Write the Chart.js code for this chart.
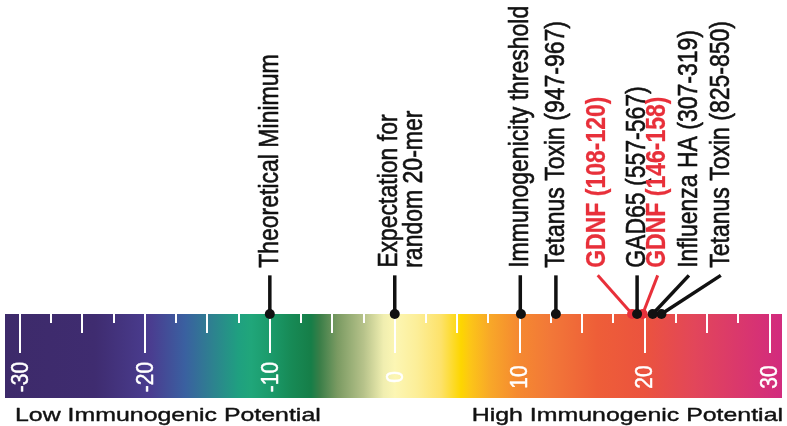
<!DOCTYPE html>
<html>
<head>
<meta charset="utf-8">
<script src="https://cdn.jsdelivr.net/npm/chart.js@4.4.1/dist/chart.umd.min.js"></script>
<style>
  html, body { margin: 0; padding: 0; background: #ffffff; }
  #wrap { width: 787px; height: 426px; position: relative; }
</style>
</head>
<body>
<div id="wrap"><canvas id="c"></canvas></div>
<script>
// ---- data ----
const axisMin = -31.2;
const axisMax = 31.0;
const tickValues = [-30, -20, -10, 0, 10, 20, 30];
const tickLabels = ['-30', '-20', '-10', '0', '10', '20', '30'];
const minorStep = 2.5;

const markerLabels = [
  ['Theoretical Minimum'],
  ['Expectation for', 'random 20-mer'],
  ['Immunogenicity threshold'],
  ['Tetanus Toxin (947-967)'],
  ['GDNF (108-120)'],
  ['GAD65 (557-567)'],
  ['GDNF (146-158)'],
  ['Influenza HA (307-319)'],
  ['Tetanus Toxin (825-850)']
];
const markerScores   = [-10, 0, 10.1, 12.9, 19.0, 19.4, 19.85, 20.65, 21.35];
const labelPositions = [-10, 0, 10.05, 12.9, 16.25, 19.4, 21.05, 23.55, 26.1];
const highlighted    = [false, false, false, false, true, false, true, false, false];

const gradientValues = [-31.2, -24, -19.5, -16.8, -14.7, -12.5, -11.5, -9.9, -8.3, -6.7, -6.0, -4.6, -2.5, -0.9, 0, 1.8, 3.7, 5.3, 6.1, 7.6, 9.8, 12.4, 16.2, 20, 24, 31];
const gradientColors = ['#3d2a6a', '#3f2c70', '#4a3d90', '#3a60a0', '#2e8090', '#1fa080', '#20a67a', '#1b9a6a', '#178a56', '#167e48', '#3a7e48', '#7a9a62', '#b6c28a', '#f0eeb0', '#fcf6b4', '#fcee98', '#fde26a', '#fdd600', '#fcc418', '#f8a828', '#f58a30', '#f27838', '#ee5e38', '#eb533e', '#e2465a', '#d22a7e'];

const BLACK = '#111111';
const RED = '#e8303a';
const FONT = '"Liberation Sans", Arial, Helvetica, sans-serif';

// y scale: 0 = bottom of colour bar, 1 = top of colour bar
const dotY = 1;
const leaderTopY = 1.46;
const textStartY = 1.55;

const datasets = markerScores.map((s, i) => ({
  data: [{ x: s, y: dotY }, { x: labelPositions[i], y: leaderTopY }],
  showLine: true,
  borderColor: highlighted[i] ? RED : BLACK,
  backgroundColor: highlighted[i] ? RED : BLACK,
  borderWidth: highlighted[i] ? 3 : 3.5,
  pointRadius: [5, 0],
  pointHoverRadius: [5, 0],
  pointBorderWidth: 0,
  clip: false,
  order: highlighted[i] ? 1 : 0
}));

function strokeFill(ctx, t, x, y, w) {
  ctx.lineWidth = w;
  ctx.lineJoin = 'round';
  ctx.strokeText(t, x, y);
  ctx.fillText(t, x, y);
}

const barPlugin = {
  id: 'bar',
  beforeDatasetsDraw(chart) {
    const { ctx, chartArea: a, scales: { x } } = chart;
    ctx.save();
    const g = ctx.createLinearGradient(x.getPixelForValue(axisMin), 0, x.getPixelForValue(axisMax), 0);
    gradientValues.forEach((v, i) => {
      const t = (v - axisMin) / (axisMax - axisMin);
      g.addColorStop(Math.min(1, Math.max(0, t)), gradientColors[i]);
    });
    ctx.fillStyle = g;
    ctx.fillRect(a.left, a.top, a.right - a.left, a.bottom - a.top);

    // ticks
    ctx.strokeStyle = '#ffffff';
    ctx.lineWidth = 2;
    for (let v = tickValues[0]; v <= tickValues[tickValues.length - 1] + 1e-9; v += minorStep) {
      const px = Math.round(x.getPixelForValue(v));
      let len;
      if (Math.abs(v % 10) < 1e-9) len = 39;
      else if (Math.abs(v % 5) < 1e-9) len = 19;
      else len = 9;
      ctx.beginPath();
      ctx.moveTo(px, a.top);
      ctx.lineTo(px, a.top + len);
      ctx.stroke();
    }
    // tick labels (rotated, white)
    ctx.fillStyle = '#ffffff';
    ctx.strokeStyle = '#ffffff';
    ctx.font = '21px ' + FONT;
    ctx.textAlign = 'center';
    ctx.textBaseline = 'middle';
    tickValues.forEach((v, i) => {
      ctx.save();
      ctx.translate(x.getPixelForValue(v), a.top + 63);
      ctx.scale(1.15, 1);
      ctx.rotate(-Math.PI / 2);
      strokeFill(ctx, tickLabels[i], 0, 1, 0.4);
      ctx.restore();
    });

    // bottom captions
    ctx.fillStyle = '#111111';
    ctx.strokeStyle = '#111111';
    ctx.font = '19px ' + FONT;
    ctx.textBaseline = 'alphabetic';
    ctx.save();
    ctx.translate(15, 421);
    ctx.scale(1.31, 1);
    ctx.textAlign = 'left';
    strokeFill(ctx, 'Low Immunogenic Potential', 0, 0, 0.4);
    ctx.restore();
    ctx.save();
    ctx.translate(783, 421);
    ctx.scale(1.31, 1);
    ctx.textAlign = 'right';
    strokeFill(ctx, 'High Immunogenic Potential', 0, 0, 0.4);
    ctx.restore();
    ctx.restore();
  },
  afterDatasetsDraw(chart) {
    const { ctx, scales: { x, y } } = chart;
    ctx.save();
    ctx.textAlign = 'left';
    ctx.textBaseline = 'middle';
    const y0 = y.getPixelForValue(textStartY);
    markerLabels.forEach((lines, i) => {
      ctx.font = (highlighted[i] ? 'bold ' : '') + '23px ' + FONT;
      ctx.fillStyle = highlighted[i] ? RED : BLACK;
      ctx.strokeStyle = highlighted[i] ? RED : BLACK;
      const px = x.getPixelForValue(labelPositions[i]);
      const offsets = lines.length > 1 ? [-5, 20] : [0];
      lines.forEach((t, k) => {
        ctx.save();
        ctx.translate(px + offsets[k], y0);
        ctx.scale(1.22, 1);
        ctx.rotate(-Math.PI / 2);
        strokeFill(ctx, t, 0, 0, highlighted[i] ? 0.2 : 0.5);
        ctx.restore();
      });
    });
    ctx.restore();
  }
};

new Chart(document.getElementById('c'), {
  type: 'scatter',
  data: { datasets },
  options: {
    responsive: true,
    maintainAspectRatio: false,
    animation: false,
    layout: { padding: { top: 314, bottom: 28, left: 3, right: 4 } },
    scales: {
      x: { type: 'linear', min: axisMin, max: axisMax, display: false },
      y: { type: 'linear', min: 0, max: 1, display: false }
    },
    plugins: { legend: { display: false }, tooltip: { enabled: false } },
    events: []
  },
  plugins: [barPlugin]
});
</script>
</body>
</html>
